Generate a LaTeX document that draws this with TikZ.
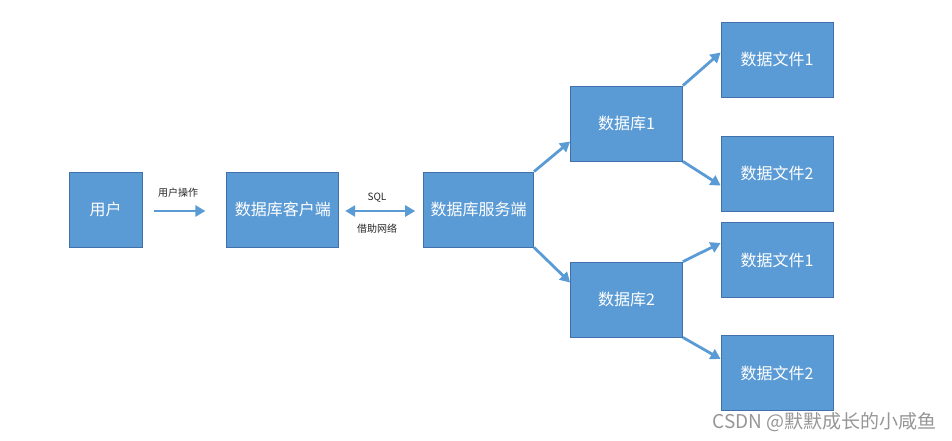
\documentclass[tikz,border=0pt]{standalone}
\usepackage{fontspec}
\setmainfont{Noto Sans CJK SC}
\usepackage{xcolor}
\usepackage{tikz}
\usetikzlibrary{arrows.meta, positioning}
\definecolor{boxblue}{RGB}{91,155,213}
\definecolor{boxedge}{RGB}{65,113,170}
\definecolor{markgray}{RGB}{150,150,150}
\tikzset{
  box/.style   ={rectangle, draw=boxedge, line width=0.8pt, fill=boxblue,
                 text=white, align=center, font=\fontsize{16}{18}\selectfont,
                 minimum width=112pt, minimum height=75pt, inner sep=0pt},
  boxs/.style  ={box, minimum width=73pt},
  lbl/.style   ={font=\fontsize{10}{12}\selectfont, text=black!85, inner sep=0pt},
  ar/.style    ={-{Triangle[length=10pt,width=11pt]}, draw=boxblue, line width=2.8pt},
  arr/.style   ={{Triangle[length=10pt,width=11pt]}-{Triangle[length=10pt,width=11pt]},
                 draw=boxblue, line width=2.8pt},
}
\begin{document}
\begin{tikzpicture}[x=1pt, y=-1pt]
\useasboundingbox (0,0) rectangle (952,440);
\node[boxs] (usr) at (105.5,209.5) {用户};
\node[box, right=84pt of usr]  (cli) {数据库客户端};
\node[box, right=84pt of cli, minimum width=110pt]  (srv) {数据库服务端};
\node[box] (db1) at (626.5,123.5) {数据库1};
\node[box] (db2) at (626.5,299.5) {数据库2};
\node[box] (f11) at (777,59.5)  {数据文件1};
\node[box] (f12) at (777,173.5) {数据文件2};
\node[box] (f21) at (777,260)   {数据文件1};
\node[box] (f22) at (777,373)   {数据文件2};
% arrows
\draw[ar]  ([xshift=12pt,yshift=-1.5pt]usr.east) -- ([xshift=-21pt,yshift=-1.5pt]cli.west);
\draw[arr] ([xshift=6pt,yshift=-1.5pt]cli.east) -- ([xshift=-8pt,yshift=-1.5pt]srv.west);
\draw[ar] (srv.north east) -- ([yshift=-18pt]db1.west);
\draw[ar] (srv.south east) -- ([yshift=17pt]db2.west);
\draw[ar] (db1.north east) -- ([yshift=7pt]f11.west);
\draw[ar] (db1.south east) -- ([yshift=-12pt]f12.west);
\draw[ar] (db2.north east) -- ([yshift=17pt]f21.west);
\draw[ar] (db2.south east) -- ([yshift=14pt]f22.west);
% labels
\node[lbl] (op)  at (178,193) {用户操作};
\node[lbl] (sql) at (377,198) {SQL};
\node[lbl] (net) at (377,229) {借助网络};
\node[font=\fontsize{19}{22}\selectfont, text=markgray, anchor=east, inner sep=0pt]
  (mark) at (937,422) {CSDN @默默成长的小咸鱼};
\end{tikzpicture}
\end{document}
